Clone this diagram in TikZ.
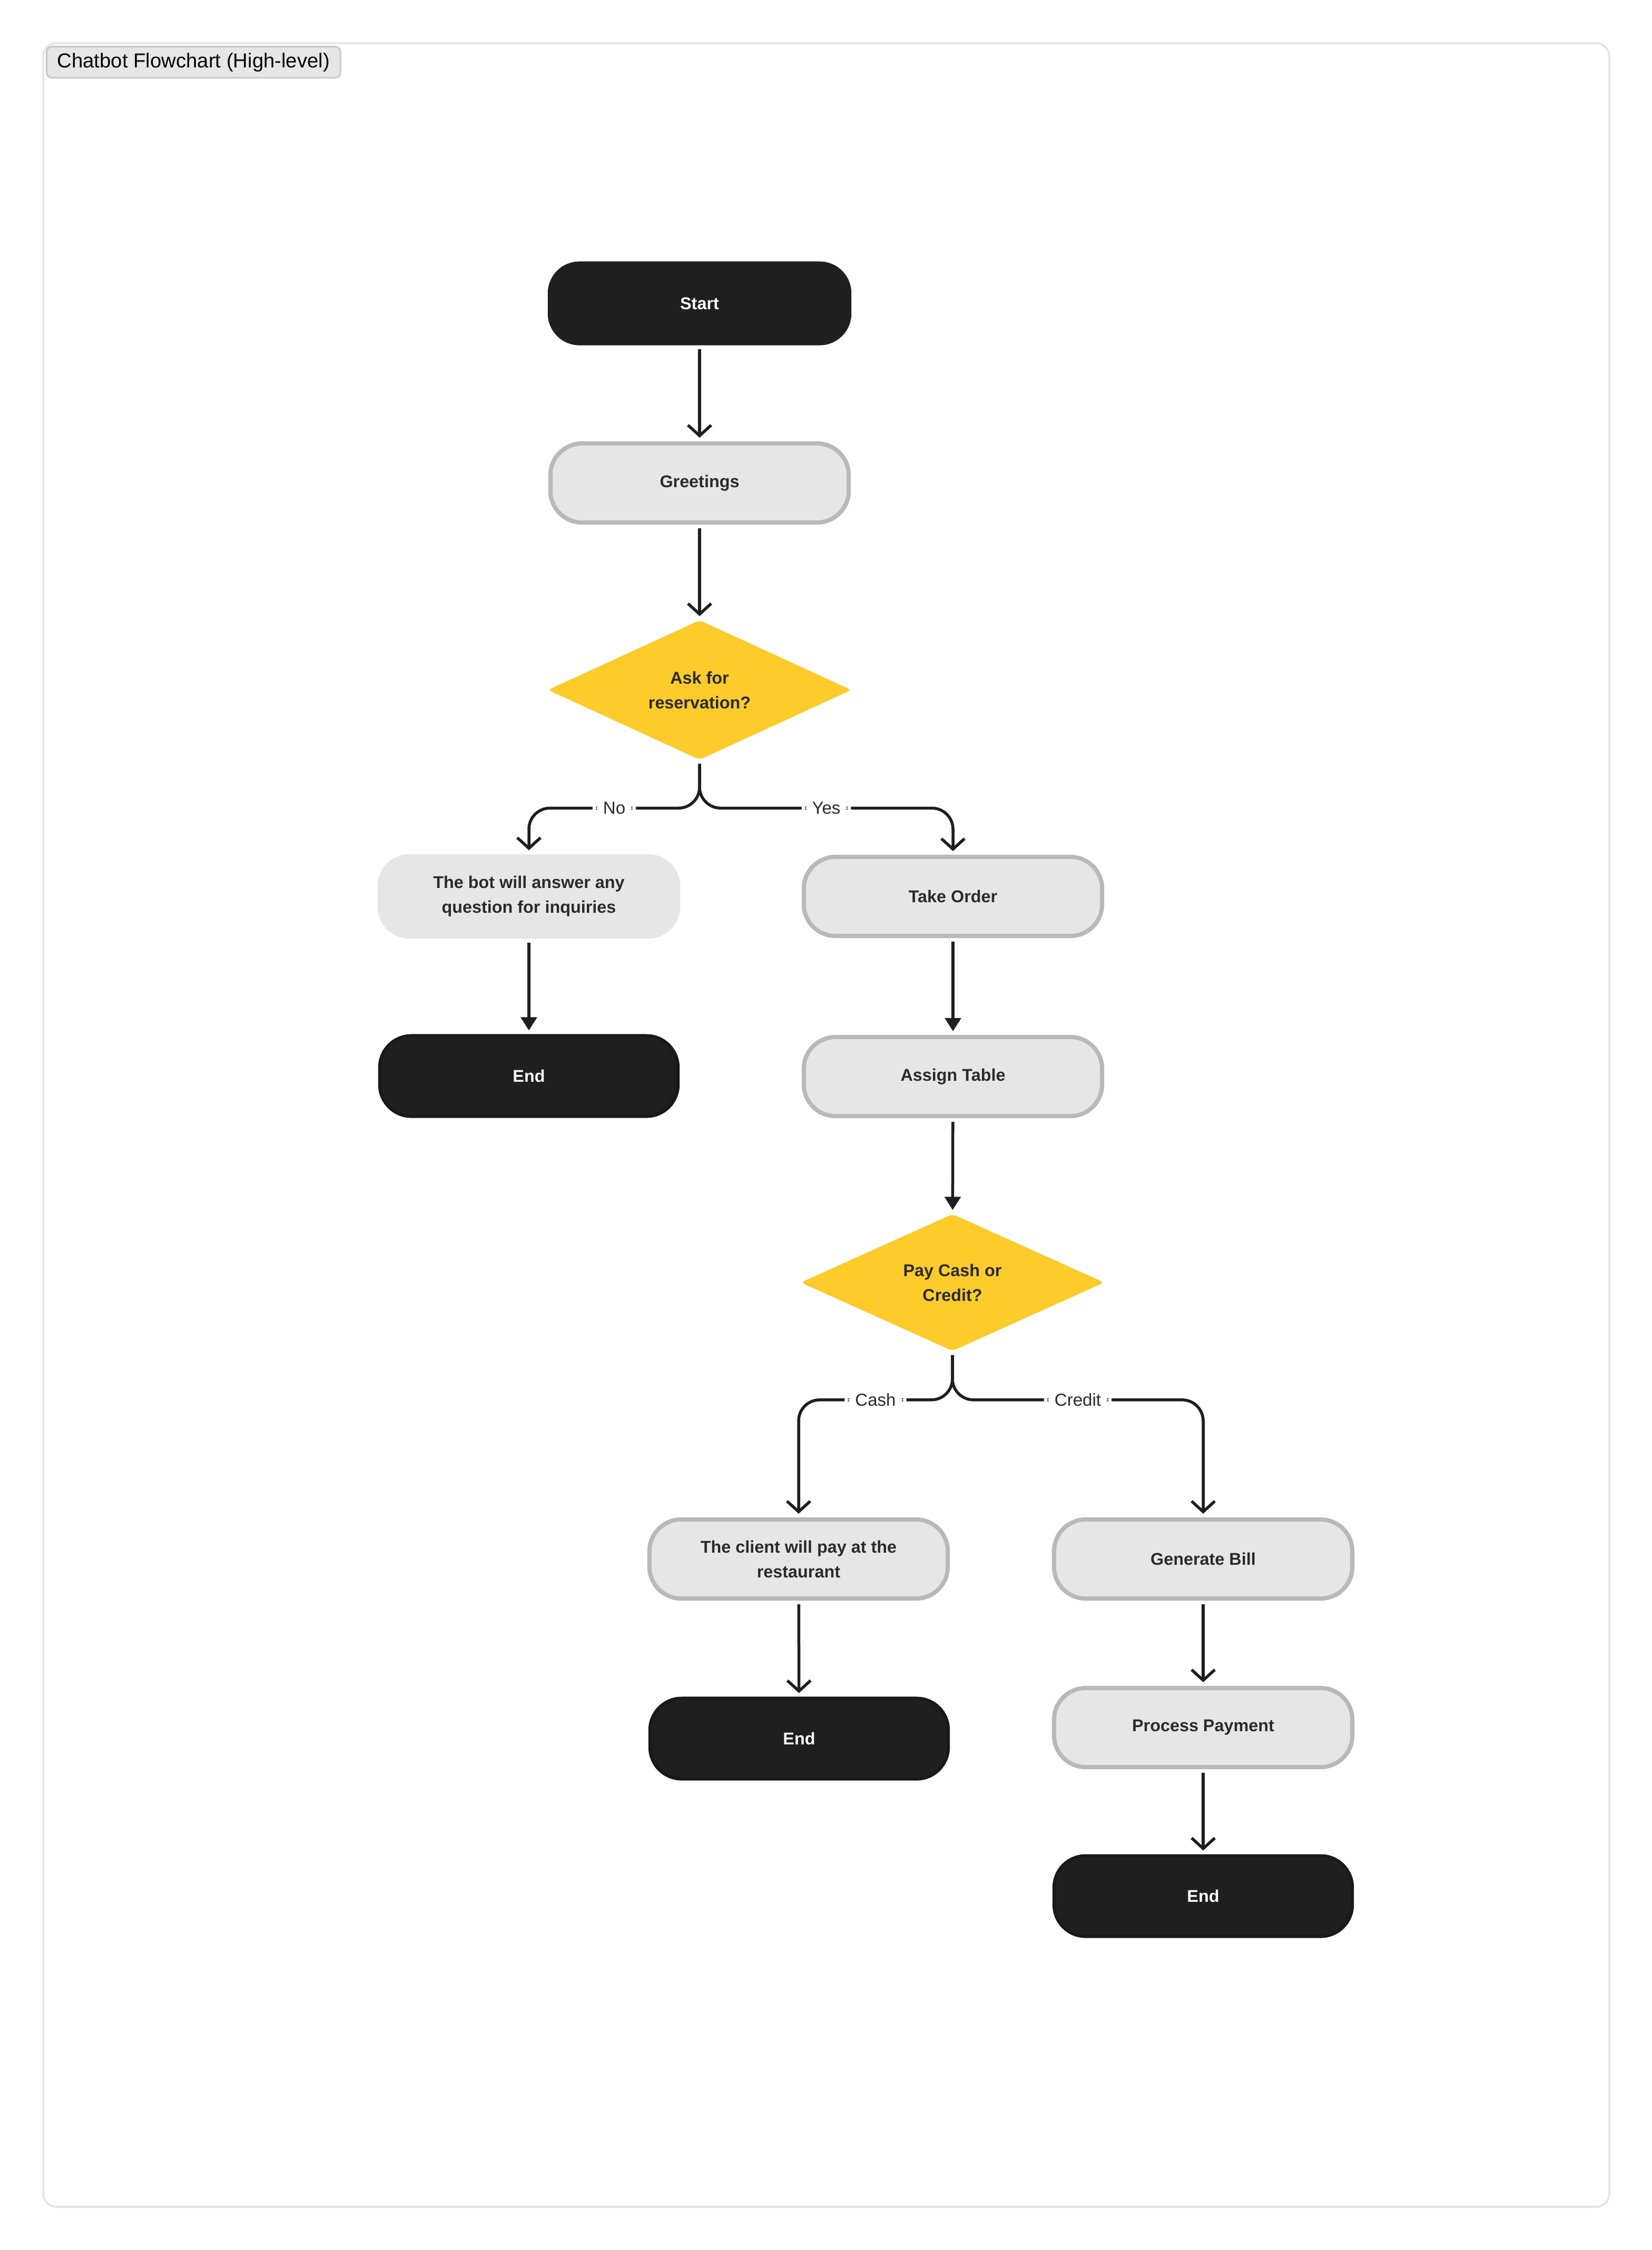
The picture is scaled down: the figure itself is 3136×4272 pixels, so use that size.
\documentclass[tikz,border=0pt]{standalone}
\usepackage{fontspec}
\setmainfont{Liberation Sans}
\usetikzlibrary{positioning,shapes.geometric,arrows.meta}
\definecolor{ink}{HTML}{1E1E1E}
\definecolor{boxgray}{HTML}{E6E6E6}
\definecolor{edgegray}{HTML}{B9B9B9}
\definecolor{darkbox}{HTML}{1F1F1F}
\definecolor{darkedge}{HTML}{191919}
\definecolor{yellowfill}{HTML}{FDCB2A}
\definecolor{framegray}{HTML}{E6E6E6}
\definecolor{tabgray}{HTML}{C8C8C8}
\definecolor{txt}{HTML}{2B2B2B}

\begin{document}
\begin{tikzpicture}[x=0.01cm,y=-0.01cm,
  flowbox/.style={rectangle,rounded corners=0.6cm,inner sep=0pt,align=center,
    font=\fontsize{9.2}{13.4}\selectfont\bfseries},
  startbox/.style={flowbox,fill=darkbox,text=white,minimum width=5.76cm,minimum height=1.59cm},
  endbox/.style={flowbox,fill=darkbox,draw=darkedge,line width=0.06cm,text=white,
    minimum width=5.66cm,minimum height=1.53cm},
  procbox/.style={flowbox,fill=boxgray,draw=edgegray,line width=0.08cm,text=txt,
    minimum width=5.66cm,minimum height=1.5cm},
  infobox/.style={flowbox,fill=boxgray,text=txt,minimum width=5.74cm,minimum height=1.6cm},
  decide/.style={diamond,fill=yellowfill,text=txt,rounded corners=0.08cm,inner sep=0pt,
    align=center,minimum width=5.76cm,minimum height=2.6cm,
    font=\fontsize{9.2}{13.4}\selectfont\bfseries},
  lbl/.style={fill=white,text=txt,inner xsep=0.2cm,inner ysep=0.05cm,
    font=\fontsize{9.4}{10}\selectfont},
  flow/.style={draw=ink,line width=0.055cm,rounded corners=0.4cm,
    shorten <=0.07cm,shorten >=0.07cm,-{Straight Barb[length=0.2cm,width=0.44cm]}},
  flowfill/.style={flow,-{Triangle[length=0.25cm,width=0.3cm]}}]
\useasboundingbox (0,0) rectangle (3136,4272);
\draw[framegray,line width=0.04cm,rounded corners=0.25cm] (82,82) rectangle (3055,4190);
\node[anchor=north west,fill=boxgray,draw=tabgray,line width=0.03cm,rounded corners=0.1cm,
  minimum height=0.55cm,inner xsep=0.2cm,font=\fontsize{10.9}{12}\selectfont]
  (title) at (87,87) {Chatbot Flowchart (High-level)};

\node[startbox] (start) at (1328,576) {Start};
\node[procbox] (greet) at (1328,917) {Greetings};
\node[decide] (ask) at (1328,1310) {Ask for\\reservation?};
\node[infobox] (bot) at (1004,1702) {The bot will answer any\\question for inquiries};
\node[procbox] (take) at (1809,1702) {Take Order};
\node[endbox] (endno) at (1004,2043) {End};
\node[procbox] (assign) at (1809,2044) {Assign Table};
\node[decide] (pay) at (1808,2435) {Pay Cash or\\Credit?};
\node[procbox] (cash) at (1516,2960) {The client will pay at the\\restaurant};
\node[procbox] (bill) at (2284,2960) {Generate Bill};
\node[endbox] (endcash) at (1517,3301) {End};
\node[procbox] (payment) at (2284,3280) {Process Payment};
\node[endbox] (endcredit) at (2284,3600) {End};

\coordinate[below=0.91cm of ask.south] (askfork);
\coordinate[below=0.92cm of pay.south] (payfork);

\draw[flow] (start) -- (greet);
\draw[flow] (greet) -- (ask);
\draw[flow] (ask.south) -- (askfork) -| node[lbl,pos=0.25] {No} (bot.north);
\draw[flow] (ask.south) -- (askfork) -| node[lbl,pos=0.25] {Yes} (take.north);
\draw[flowfill] (bot) -- (endno);
\draw[flowfill] (take) -- (assign);
\draw[flowfill] (assign) -- (pay);
\draw[flow] (pay.south) -- (payfork) -| node[lbl,pos=0.25] {Cash} (cash.north);
\draw[flow] (pay.south) -- (payfork) -| node[lbl,pos=0.25] {Credit} (bill.north);
\draw[flow] (cash) -- (endcash);
\draw[flow] (bill) -- (payment);
\draw[flow] (payment) -- (endcredit);
\end{tikzpicture}
\end{document}
